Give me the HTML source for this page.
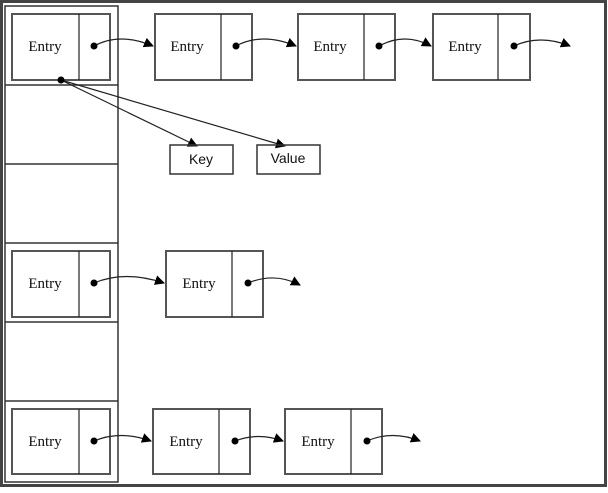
<!DOCTYPE html>
<html><head><style>body{margin:0;background:#fff}</style></head><body>
<svg width="608" height="488" xmlns="http://www.w3.org/2000/svg" font-family="Liberation Serif, serif" font-size="15">
<rect x="1.5" y="1.5" width="604" height="484" fill="#fff" stroke="#444" stroke-width="3"/>
<g fill="none" stroke="#333" stroke-width="1.5">
<rect x="5" y="6" width="113" height="476"/>
<line x1="5" y1="85" x2="118" y2="85"/><line x1="5" y1="164" x2="118" y2="164"/>
<line x1="5" y1="243" x2="118" y2="243"/><line x1="5" y1="322" x2="118" y2="322"/>
<line x1="5" y1="401" x2="118" y2="401"/>
</g>
<defs><marker id="a" markerWidth="10" markerHeight="10" refX="9" refY="5" orient="auto" markerUnits="userSpaceOnUse"><path d="M0,0L10,5L0,10z" fill="#000"/></marker></defs>
<g fill="none" stroke="#555" stroke-width="2">
<rect x="12" y="14" width="98" height="66"/><rect x="155" y="14" width="97" height="66"/><rect x="298" y="14" width="97" height="66"/><rect x="433" y="14" width="97" height="66"/>
<rect x="12" y="251" width="98" height="66"/><rect x="166" y="251" width="97" height="66"/>
<rect x="12" y="409" width="98" height="65"/><rect x="153" y="409" width="97" height="65"/><rect x="285" y="409" width="97" height="65"/>
</g>
<g stroke="#222" stroke-width="1.2">
<line x1="79" y1="14" x2="79" y2="80"/><line x1="221" y1="14" x2="221" y2="80"/><line x1="364" y1="14" x2="364" y2="80"/><line x1="498" y1="14" x2="498" y2="80"/>
<line x1="79" y1="251" x2="79" y2="317"/><line x1="232" y1="251" x2="232" y2="317"/>
<line x1="79" y1="409" x2="79" y2="474"/><line x1="219" y1="409" x2="219" y2="474"/><line x1="351" y1="409" x2="351" y2="474"/>
</g>
<g fill="none" stroke="#222" stroke-width="1.2" marker-end="url(#a)">
<path d="M94,46 Q120,32 153,46"/><path d="M236,46 Q262,32 296,46"/><path d="M379,46 Q405,32 431,46"/><path d="M514,46 Q540,34 570,46"/>
<path d="M94,283 Q125,270 164,283"/><path d="M248,283 Q275,272 300,285"/>
<path d="M94,441 Q120,430 151,441"/><path d="M235,441 Q258,432 283,441"/><path d="M367,441 Q392,430 420,441"/>
<path d="M61,80 L197,146"/><path d="M61,80 L285,146"/>
</g>
<g fill="#000"><circle cx="94" cy="46" r="3.5"/><circle cx="236" cy="46" r="3.5"/><circle cx="379" cy="46" r="3.5"/><circle cx="514" cy="46" r="3.5"/><circle cx="94" cy="283" r="3.5"/><circle cx="248" cy="283" r="3.5"/><circle cx="94" cy="441" r="3.5"/><circle cx="235" cy="441" r="3.5"/><circle cx="367" cy="441" r="3.5"/><circle cx="61" cy="80" r="3.5"/></g>
<g fill="none" stroke="#333" stroke-width="1.5"><rect x="170" y="145" width="63" height="29"/><rect x="257" y="145" width="63" height="29"/></g>
<g fill="#111" text-anchor="middle">
<text x="45" y="51">Entry</text><text x="187" y="51">Entry</text><text x="330" y="51">Entry</text><text x="465" y="51">Entry</text>
<text x="45" y="288">Entry</text><text x="199" y="288">Entry</text>
<text x="45" y="446">Entry</text><text x="186" y="446">Entry</text><text x="318" y="446">Entry</text>
<text x="201" y="164" font-family="Liberation Sans, sans-serif" font-size="14">Key</text>
<text x="288" y="163" font-family="Liberation Sans, sans-serif" font-size="14">Value</text>
</g>
</svg>
</body></html>
